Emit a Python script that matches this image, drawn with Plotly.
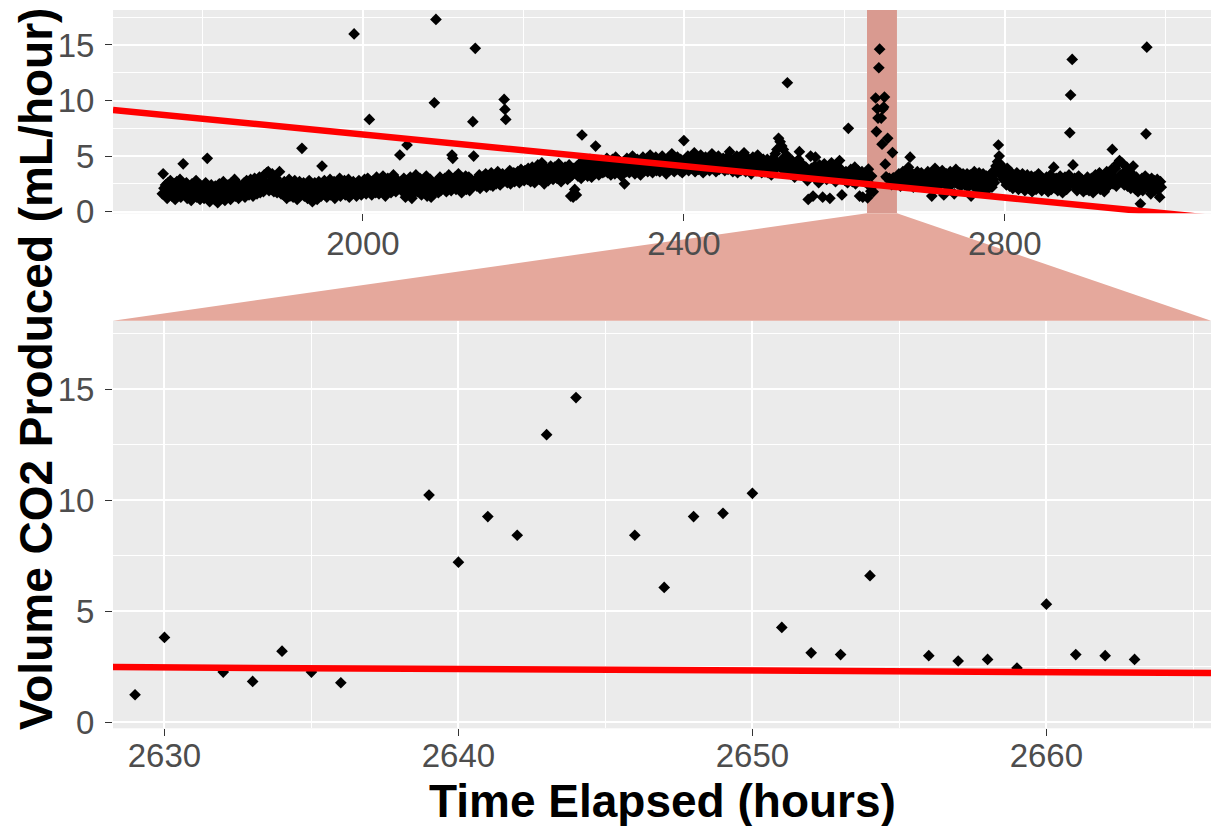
import plotly.graph_objects as go

# ---------------------------------------------------------------------------
# Hourly CO2 output (mL/hour); each list starts at the hour given in its name.
# None marks an hour with no reading.
# ---------------------------------------------------------------------------
co2_1750 = [1.6, 3.4, 2.1, 1.5, 2.4, 1.9, 1.2, 2.6, 2.2, 1.7,
            2.8, 2.0, 1.4, 2.3, 1.8, 2.5, 1.1, 2.0, 2.7, 1.6,
            2.2, 1.9, 2.9, 1.3, 2.1, 1.7, 4.3, 2.4, 1.5, 2.0,
            2.6, 1.2, 1.8, 2.3, 1.6, 2.1, 1.0, 2.5, 1.9, 1.4,
            2.2, 1.7, 2.8, 1.3, 2.0, 1.6, 2.4, 1.1, 1.9, 2.3]
co2_1800 = [1.5, 2.2, 1.2, 1.9, 2.6, 1.4, 4.8, 1.7, 2.1, 0.9,
            1.6, 2.4, 1.3, 1.8, 2.0, 1.1, 2.3, 1.5, 1.9, 0.8,
            1.7, 2.5, 1.4, 2.1, 1.2, 1.8, 2.7, 1.6, 1.0, 2.2,
            1.9, 1.3, 2.4, 1.7, 2.0, 1.1, 2.6, 1.5, 2.2, 1.8,
            2.9, 1.4, 2.1, 1.7, 2.5, 1.2, 2.0, 1.6, 2.3, 1.9]
co2_1850 = [2.2, 1.6, 2.6, 1.3, 2.0, 2.8, 1.7, 2.3, 1.5, 2.1,
            2.9, 1.8, 2.4, 1.4, 2.2, 3.0, 1.9, 2.5, 1.6, 2.7,
            2.0, 3.1, 1.7, 2.4, 2.2, 2.8, 1.8, 3.3, 2.1, 2.6,
            3.5, 2.3, 3.6, 1.9, 2.7, 3.2, 2.0, 3.4, 2.5, 1.8,
            2.9, 2.2, 3.0, 1.7, 2.6, 2.3, 3.6, 2.0, 1.6, 2.4]
co2_1900 = [2.1, 1.5, 2.7, 1.8, 2.3, 1.2, 2.5, 1.9, 2.9, 1.4,
            2.2, 1.7, 2.6, 1.3, 2.0, 2.8, 1.6, 2.4, 1.1, 2.1,
            1.8, 2.7, 1.5, 2.3, 5.7, 1.9, 2.6, 1.4, 2.2, 1.7,
            2.5, 1.2, 2.0, 2.8, 1.6, 2.3, 1.3, 0.9, 2.1, 1.8,
            2.6, 1.5, 2.4, 1.1, 2.0, 2.7, 1.7, 2.2, 1.4, 4.1]
co2_1950 = [2.3, 1.6, 2.8, 1.9, 2.2, 1.3, 2.6, 2.0, 1.7, 2.9,
            1.5, 2.4, 2.1, 1.8, 2.7, 1.2, 2.3, 1.9, 2.5, 1.6,
            2.2, 3.0, 1.4, 2.6, 1.9, 2.3, 1.7, 2.8, 1.5, 2.1,
            2.4, 1.8, 2.9, 1.3, 2.2, 2.6, 1.6, 2.0, 2.7, 16.0,
            1.9, 2.5, 1.4, 2.3, 2.1, 2.8, 1.7, 2.4, 1.5, 2.2]
co2_2000 = [2.6, 1.8, 2.9, 2.1, 1.6, 2.4, 3.0, 1.9, 8.3, 2.3,
            2.7, 1.5, 2.2, 2.8, 1.9, 2.5, 1.7, 3.1, 2.0, 2.4,
            1.6, 2.9, 2.2, 2.6, 1.8, 3.2, 2.1, 2.5, 1.4, 2.7,
            2.3, 3.0, 1.9, 2.4, 2.8, 1.7, 2.6, 2.2, 3.3, 2.0,
            2.5, 1.8, 2.9, 2.3, 2.6, 2.1, 5.1, 2.4, 1.9, 2.7]
co2_2050 = [2.2, 3.0, 2.5, 1.3, 2.8, 6.0, 2.3, 2.6, 1.9, 3.1,
            2.4, 1.2, 2.7, 1.6, 2.9, 2.2, 3.3, 2.5, 1.8, 2.6,
            2.1, 3.0, 2.4, 1.5, 2.8, 2.3, 1.9, 2.7, 2.0, 3.2,
            1.4, 2.5, 2.2, 1.8, 2.9, 1.3, 2.4, 2.1, 1.6, 9.8,
            2.6, 17.3, 2.0, 2.8, 1.7, 2.3, 3.1, 1.9, 2.5, 2.2]
co2_2100 = [2.7, 2.1, 3.0, 2.4, 1.8, 2.9, 2.5, 3.3, 2.2, 2.6,
            1.9, 5.1, 4.8, 2.8, 2.3, 3.1, 2.0, 2.7, 2.4, 3.4,
            2.1, 2.9, 2.6, 1.7, 3.0, 2.3, 2.8, 2.5, 3.2, 2.0,
            2.7, 2.4, 3.1, 1.9, 2.6, 2.9, 2.2, 8.1, 5.0, 2.5,
            14.7, 2.8, 2.3, 3.0, 2.6, 3.3, 2.1, 2.7, 2.4, 3.1]
co2_2150 = [2.5, 3.0, 2.7, 3.4, 2.2, 2.9, 3.2, 2.6, 3.0, 2.4,
            3.5, 2.8, 2.3, 3.1, 2.7, 3.3, 2.5, 2.9, 3.6, 2.6,
            3.0, 2.4, 3.2, 2.8, 3.4, 2.7, 10.1, 9.2, 8.3, 3.1,
            2.6, 3.3, 2.9, 3.7, 2.5, 3.0, 3.2, 2.8, 3.5, 2.7,
            3.1, 3.4, 2.9, 3.6, 3.0, 2.6, 3.3, 3.8, 2.9, 3.2]
co2_2200 = [3.4, 2.8, 3.7, 3.1, 3.5, 2.9, 3.9, 3.2, 3.6, 2.7,
            3.3, 4.0, 3.0, 3.5, 2.6, 3.8, 3.2, 3.4, 4.2, 3.1,
            2.9, 3.6, 3.3, 4.4, 3.0, 3.7, 2.5, 3.4, 3.9, 3.2,
            3.5, 2.8, 3.8, 3.1, 4.1, 3.3, 3.6, 2.9, 3.4, 4.0,
            3.2, 3.7, 3.0, 3.5, 4.3, 3.1, 3.8, 2.7, 3.3, 3.6]
co2_2250 = [3.6, 3.2, 4.0, 3.4, 3.8, 2.9, 3.5, 4.2, 3.1, 1.4,
            3.7, 3.3, 1.3, 3.9, 2.0, 3.6, 1.5, 4.1, 3.2, 3.8,
            3.4, 4.4, 3.0, 6.9, 3.7, 4.0, 3.3, 4.5, 3.6, 3.9,
            3.2, 4.2, 3.5, 4.7, 3.8, 3.1, 4.1, 3.6, 4.3, 3.4,
            5.9, 3.9, 3.7, 4.4, 3.3, 4.0, 3.6, 4.6, 3.8, 3.5]
co2_2300 = [4.1, 3.6, 4.4, 3.9, 4.8, 3.5, 4.2, 3.8, 4.5, 3.3,
            4.0, 4.7, 3.7, 4.3, 3.4, 4.9, 3.9, 4.2, 3.6, 4.6,
            3.8, 4.4, 3.2, 4.1, 3.7, 4.5, 2.5, 4.0, 3.6, 4.8,
            3.9, 4.3, 3.5, 4.6, 4.1, 3.7, 5.0, 3.8, 4.4, 3.4,
            4.2, 3.9, 4.7, 3.6, 4.0, 4.5, 3.3, 4.3, 3.8, 4.9]
co2_2350 = [4.1, 3.7, 4.5, 3.9, 4.8, 3.6, 4.3, 4.0, 5.1, 3.8,
            4.4, 3.5, 4.6, 4.2, 3.9, 4.9, 3.7, 4.3, 4.0, 4.7,
            3.6, 4.5, 4.1, 5.0, 3.8, 4.4, 3.9, 4.6, 3.4, 4.2,
            4.8, 4.0, 3.7, 4.5, 4.1, 5.2, 3.9, 4.3, 3.6, 4.6,
            4.2, 3.8, 4.9, 4.0, 4.4, 3.7, 4.7, 4.1, 3.5, 4.5]
co2_2400 = [6.4, 4.2, 3.8, 4.6, 4.0, 5.0, 3.7, 4.4, 4.1, 4.8,
            3.9, 4.5, 4.2, 5.3, 3.6, 4.3, 4.0, 4.7, 3.8, 4.5,
            4.1, 5.1, 3.9, 4.4, 3.5, 4.6, 4.2, 4.9, 3.8, 4.3,
            4.0, 4.8, 3.7, 4.5, 4.1, 5.2, 3.9, 4.4, 4.2, 4.7,
            3.6, 4.3, 4.0, 5.0, 3.8, 4.6, 4.1, 4.4, 3.9, 4.8]
co2_2450 = [4.2, 3.7, 4.5, 4.0, 4.9, 3.8, 4.3, 5.4, 3.9, 4.6,
            4.1, 3.6, 4.4, 4.8, 3.8, 4.2, 5.0, 3.5, 4.3, 4.0,
            4.7, 3.7, 4.5, 4.1, 3.9, 5.3, 4.2, 3.6, 4.4, 4.0,
            4.8, 3.8, 4.3, 4.6, 3.4, 4.1, 4.9, 3.9, 4.2, 4.5,
            3.7, 4.4, 5.1, 4.0, 3.8, 4.6, 4.2, 3.5, 4.3, 4.7]
co2_2500 = [4.0, 3.6, 4.4, 3.8, 4.7, 3.5, 4.2, 3.9, 4.5, 3.3,
            4.1, 4.8, 3.7, 4.3, 5.2, 4.0, 5.6, 4.4, 6.6, 4.1,
            6.3, 4.6, 5.9, 3.8, 5.6, 4.2, 4.9, 3.9, 5.1, 11.6,
            4.3, 3.7, 4.5, 3.4, 4.0, 4.6, 3.6, 4.2, 3.1, 4.4,
            3.8, 4.1, 3.5, 4.7, 5.4, 3.9, 3.3, 4.3, 3.7, 4.0]
co2_2550 = [3.6, 3.1, 4.0, 3.4, 2.8, 1.1, 3.7, 3.2, 5.0, 3.9,
            3.3, 1.4, 3.6, 4.1, 4.9, 3.0, 3.8, 3.4, 2.6, 4.2,
            3.5, 3.1, 3.9, 1.3, 3.6, 4.3, 3.2, 3.7, 2.9, 4.0,
            3.4, 3.8, 1.2, 3.3, 4.4, 3.6, 3.0, 3.9, 3.5, 2.7,
            4.1, 3.2, 3.7, 3.4, 4.6, 3.1, 3.8, 1.5, 3.5, 3.0]
co2_2600 = [3.3, 2.8, 3.6, 3.1, 2.6, 7.5, 3.4, 2.9, 3.8, 3.2,
            2.7, 3.5, 3.0, 4.0, 2.5, 3.3, 2.8, 3.7, 3.1, 1.4,
            3.4, 2.9, 3.6, 1.3, 3.2, 2.7, 3.5, 3.0, 2.6]
co2_2629 = [1.24, 3.82, None, 2.26, 1.84, 3.20, 2.26, 1.78, None, None,
            10.23, 7.21, 9.26, 8.42, 12.95, 14.62, None, 8.42, 6.07, 9.26,
            9.41, 10.31, 4.27, 3.13, 3.05, 6.60, None, 3.00, 2.76, 2.83,
            2.44, 5.32, 3.05, 3.00, 2.83, None, None]
co2_2666 = [3.1, 2.6, 3.4, 2.9, 2.3, 3.2, 2.7, 3.6, 2.5, 3.0,
            2.8, 3.3, 2.4, 3.5, 4.0, 2.9, 4.9, 3.1, 2.6, 3.4,
            2.2, 3.0, 2.7, 3.3, 2.5, 3.6, 2.9, 2.4, 3.2, 2.8,
            3.5, 2.6, 3.0, 2.3]
co2_2700 = [2.9, 2.4, 3.2, 2.7, 3.6, 2.2, 3.0, 2.6, 3.4, 1.4,
            2.8, 3.3, 2.5, 3.9, 2.9, 2.3, 3.1, 2.7, 3.5, 2.4,
            3.0, 2.6, 3.7, 2.8, 1.5, 3.2, 2.5, 3.4, 2.9, 2.2,
            3.1, 2.7, 3.6, 2.4, 3.0, 2.8, 3.3, 1.6, 2.6, 3.8,
            2.9, 2.5, 3.2, 2.7, 3.5, 2.3, 3.0, 2.6, 3.4, 2.8]
co2_2750 = [2.4, 3.1, 2.7, 3.4, 2.2, 2.9, 2.5, 3.3, 1.4, 2.8,
            3.0, 2.3, 3.6, 2.6, 3.2, 2.1, 2.9, 2.5, 3.5, 2.7,
            2.0, 3.1, 2.6, 3.4, 2.3, 2.9, 1.8, 3.2, 2.7, 2.4,
            3.0, 2.5, 3.3, 2.8, 2.2, 3.6, 2.9, 2.6, 3.5, 4.1,
            3.8, 4.5, 6.0, 5.0, 4.3, 3.7, 3.2, 4.0, 2.9, 3.4]
co2_2800 = [2.8, 3.3, 2.4, 3.9, 2.7, 3.1, 2.3, 3.6, 2.6, 2.9,
            2.1, 3.2, 2.5, 3.0, 2.4, 3.5, 2.7, 2.0, 3.1, 2.6,
            2.9, 2.2, 3.4, 2.5, 2.8, 1.9, 3.0, 2.4, 3.3, 2.6,
            2.1, 2.9, 2.5, 3.2, 1.8, 2.7, 2.3, 3.1, 2.6, 2.0,
            2.8, 2.4, 3.4, 2.2, 2.9, 2.5, 1.9, 3.0, 2.6, 2.3]
co2_2850 = [2.7, 2.2, 3.1, 2.5, 1.8, 2.9, 2.4, 3.3, 2.0, 2.6,
            2.3, 4.0, 2.8, 2.1, 3.0, 2.5, 1.9, 2.7, 2.4, 3.2,
            2.2, 2.6, 1.7, 2.9, 2.3, 3.1, 2.5, 2.0, 2.8, 2.4,
            3.3, 7.1, 10.5, 2.7, 13.7, 4.2, 2.6, 3.0, 2.2, 2.8,
            1.9, 2.5, 3.2, 2.3, 2.7, 2.1, 2.9, 2.4, 1.8, 2.6]
co2_2900 = [2.3, 2.8, 2.0, 3.1, 2.5, 1.9, 2.7, 2.2, 3.0, 2.4,
            1.7, 2.9, 2.3, 3.3, 2.6, 2.1, 2.8, 2.4, 3.5, 2.0,
            2.7, 2.3, 3.2, 2.5, 1.8, 3.0, 2.6, 3.6, 2.2, 2.9,
            2.4, 3.4, 2.7, 3.8, 5.6, 2.5, 3.1, 2.8, 3.9, 2.3,
            4.3, 3.0, 2.6, 4.6, 3.3, 2.9, 4.4, 2.7, 3.5, 2.4]
co2_2950 = [3.2, 2.6, 4.0, 2.3, 3.0, 2.5, 3.6, 2.1, 2.8, 3.3,
            4.1, 2.4, 2.9, 2.0, 3.1, 2.6, 1.8, 2.7, 2.2, 0.7,
            2.5, 3.0, 1.9, 2.8, 2.3, 3.2, 7.0, 14.8, 2.4, 2.9,
            2.1, 2.7, 1.6, 3.0, 2.5, 2.2, 2.8, 1.9, 2.6, 2.3,
            2.9, 2.0, 2.4, 1.3, 2.7, 2.2]

blocks = [(1750, co2_1750), (1800, co2_1800), (1850, co2_1850), (1900, co2_1900),
          (1950, co2_1950), (2000, co2_2000), (2050, co2_2050), (2100, co2_2100),
          (2150, co2_2150), (2200, co2_2200), (2250, co2_2250), (2300, co2_2300),
          (2350, co2_2350), (2400, co2_2400), (2450, co2_2450), (2500, co2_2500),
          (2550, co2_2550), (2600, co2_2600), (2629, co2_2629), (2666, co2_2666),
          (2700, co2_2700), (2750, co2_2750), (2800, co2_2800), (2850, co2_2850),
          (2900, co2_2900), (2950, co2_2950)]

hours, co2 = [], []
for start, vals in blocks:
    for i, v in enumerate(vals):
        if v is not None:
            hours.append(start + i)
            co2.append(v)

# Linear trend (mL/hour) drawn in red: value at 2650 h and slope per hour
trend_at_2650 = 2.33
trend_slope = -0.0071

# Axis ranges: full record on top, zoomed window below
full_range = [1688.5, 3057.0]
zoom_range = [2628.25, 2665.6]
y_range_top = [-0.15, 18.15]
y_range_bottom = [-0.27, 18.08]

x_ticks_full = [2000, 2400, 2800]
x_ticks_zoom = [2630, 2640, 2650, 2660]
y_ticks = [0, 5, 10, 15]


def trend(x):
    return trend_at_2650 + trend_slope * (x - 2650)


W, H = 1211, 826
x_dom = [113 / W, 1.0]
top_dom = [1 - 213.3 / H, 1 - 10 / H]
bot_dom = [1 - 728.3 / H, 1 - 320.7 / H]

PANEL = "#EBEBEB"
TEXT = "#4D4D4D"
TICK = "#333333"
FONT = "Liberation Sans, Arial, sans-serif"
WINDOW_FILL = "#D99A90"
ZOOM_FILL = "#E5A89C"

fig = go.Figure()

# Highlighted zoom window on the full-record panel (under the points)
wx = [zoom_range[0], zoom_range[1], zoom_range[1], zoom_range[0], zoom_range[0]]
wy = [y_range_top[0], y_range_top[0], y_range_top[1], y_range_top[1], y_range_top[0]]
fig.add_trace(go.Scatter(x=wx, y=wy, xaxis="x", yaxis="y", mode="lines",
                         fill="toself", fillcolor=WINDOW_FILL, line=dict(width=0),
                         showlegend=False, hoverinfo="skip"))

for xa, ya in (("x", "y"), ("x2", "y2")):
    fig.add_trace(go.Scatter(
        x=hours, y=co2, mode="markers", xaxis=xa, yaxis=ya,
        marker=dict(symbol="diamond", size=9, color="black", line=dict(width=0)),
        showlegend=False, hoverinfo="x+y"))

for xa, ya, rng in (("x", "y", full_range), ("x2", "y2", zoom_range)):
    fig.add_trace(go.Scatter(
        x=rng, y=[trend(v) for v in rng], mode="lines", xaxis=xa, yaxis=ya,
        line=dict(color="#FF0000", width=6.5), showlegend=False, hoverinfo="skip"))

axis_common = dict(
    automargin=False,
    showline=False, zeroline=False, showgrid=True, gridcolor="white", gridwidth=2,
    ticks="outside", ticklen=7, tickwidth=1.4, tickcolor=TICK,
    tickfont=dict(family=FONT, size=33, color=TEXT),
)

fig.update_layout(
    template="none",
    width=W, height=H, margin=dict(l=0, r=0, t=0, b=0, autoexpand=False),
    paper_bgcolor="white", plot_bgcolor=PANEL, showlegend=False,
    xaxis=dict(domain=x_dom, anchor="y", range=full_range, tickvals=x_ticks_full,
               ticklabelstandoff=-6,
               minor=dict(dtick=200, tick0=1800, showgrid=True, gridcolor="white",
                          gridwidth=1, ticks=""),
               **axis_common),
    yaxis=dict(domain=top_dom, anchor="x", range=y_range_top, tickvals=y_ticks,
               ticklabelstandoff=4,
               minor=dict(dtick=2.5, tick0=0, showgrid=True, gridcolor="white",
                          gridwidth=1, ticks=""),
               **axis_common),
    xaxis2=dict(domain=x_dom, anchor="y2", range=zoom_range, tickvals=x_ticks_zoom,
                ticklabelstandoff=-9,
                minor=dict(dtick=5, tick0=2625, showgrid=True, gridcolor="white",
                           gridwidth=1, ticks=""),
                **axis_common),
    yaxis2=dict(domain=bot_dom, anchor="x2", range=y_range_bottom, tickvals=y_ticks,
                ticklabelstandoff=4,
                minor=dict(dtick=2.5, tick0=0, showgrid=True, gridcolor="white",
                           gridwidth=1, ticks=""),
                **axis_common),
)


# Connector between the window and the zoomed panel
def to_paper(v):
    frac = (v - full_range[0]) / (full_range[1] - full_range[0])
    return x_dom[0] + frac * (x_dom[1] - x_dom[0])


px0, px1 = to_paper(zoom_range[0]), to_paper(zoom_range[1])
ya_top, ya_bot = top_dom[0], bot_dom[1]
fig.add_shape(type="path", xref="paper", yref="paper",
              path=f"M {px0:.5f},{ya_top:.5f} L {px1:.5f},{ya_top:.5f} "
                   f"L {x_dom[1]:.5f},{ya_bot:.5f} L {x_dom[0]:.5f},{ya_bot:.5f} Z",
              fillcolor=ZOOM_FILL, line=dict(width=0), layer="below")

fig.add_annotation(text="<b>Volume CO2 Produced (mL/hour)</b>", textangle=-90,
                   xref="paper", yref="paper", x=36 / W, y=1 - 369 / H,
                   xanchor="center", yanchor="middle", showarrow=False,
                   font=dict(family=FONT, size=46, color="black"))
fig.add_annotation(text="<b>Time Elapsed (hours)</b>",
                   xref="paper", yref="paper", x=(x_dom[0] + x_dom[1]) / 2,
                   y=1 - 801 / H, xanchor="center", yanchor="middle", showarrow=False,
                   font=dict(family=FONT, size=46, color="black"))

fig.write_html("out.html")
